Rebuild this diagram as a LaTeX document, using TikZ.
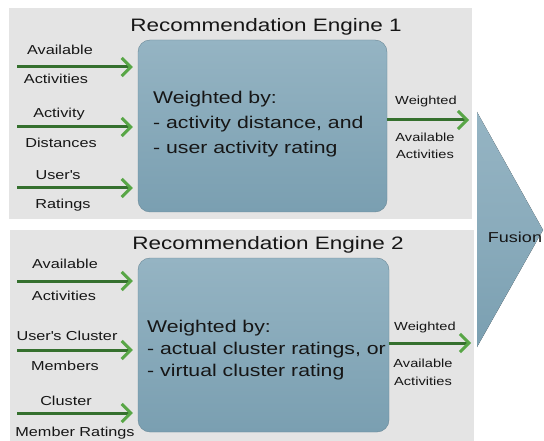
\documentclass[tikz,border=0pt]{standalone}
\usepackage{fontspec}
\setmainfont{Liberation Sans}[FakeStretch=1.25]
\usetikzlibrary{arrows.meta, positioning}
\definecolor{panel}{HTML}{E4E4E4}
\definecolor{hell}{HTML}{95B4C3}
\definecolor{dunkel}{HTML}{7A9FB1}
\definecolor{schaft}{HTML}{35702E}
\definecolor{spitze}{HTML}{58A646}
\definecolor{schrift}{HTML}{161616}

\begin{document}
\begin{tikzpicture}[
    x=1pt, y=-1pt,
    every node/.style={text=schrift, inner sep=0pt},
    engine/.style={rounded corners=12pt, top color=hell, bottom color=dunkel,
                   draw=dunkel!85!black, line width=0.4pt},
    flow/.style={draw=schaft, line width=3pt, shorten >=5pt,
                 -{Straight Barb[length=9pt,width=18pt,color=spitze]}},
    titel/.style={anchor=base, font=\fontsize{18}{20}\selectfont},
    inlbl/.style={anchor=base, font=\fontsize{13}{15}\selectfont},
    outlbl/.style={anchor=base, font=\fontsize{11.7}{13}\selectfont},
  ]
  \useasboundingbox (0,0) rectangle (544,441);

  % Hintergrund
  \fill[panel] (9,8) rectangle (472,219);
  \fill[panel] (10,230) rectangle (474,441);

  % Fusion
  \coordinate (fusA) at (477,112);
  \coordinate (fusB) at (477,347);
  \coordinate (fusC) at (543,230);
  \fill[top color=hell, bottom color=dunkel, middle color=hell!60!dunkel]
    (fusA) -- (fusC) -- (fusB) -- cycle;
  \node[anchor=base, font=\fontsize{14.4}{16}\selectfont] (fusion) at (515,242) {Fusion};

  % Engine 1
  \node[titel] (titelA) at (266,32) {Recommendation Engine 1};
  \node[engine, minimum width=249pt, minimum height=172pt] (engA) at (262.5,126) {};
  \node[anchor=north west, align=left, font=\fontsize{17}{25}\selectfont]
    (textA) at (153,91) {Weighted by:\\ - activity distance, and\\ - user activity rating};

  \coordinate (inA1) at (17,67);
  \coordinate (inA2) at (17,127);
  \coordinate (inA3) at (17,188);
  \draw[flow] (inA1) -- (inA1 -| engA.west);
  \draw[flow] (inA2) -- (inA2 -| engA.west);
  \draw[flow] (inA3) -- (inA3 -| engA.west);
  \node[inlbl] (lA1) at (60,55) {Available};
  \node[inlbl] (lA2) at (56,84) {Activities};
  \node[inlbl] (lA3) at (59,118) {Activity};
  \node[inlbl] (lA4) at (61,148) {Distances};
  \node[inlbl] (lA5) at (58,180) {User\textquotesingle s};
  \node[inlbl] (lA6) at (63,208) {Ratings};

  \coordinate (outA) at (474,120);
  \draw[flow] (outA -| engA.east) -- (outA);
  \node[outlbl] (oA1) at (426,105) {Weighted};
  \node[outlbl] (oA2) at (425,142) {Available};
  \node[outlbl] (oA3) at (425,159) {Activities};

  % Engine 2
  \node[titel] (titelB) at (268,250) {Recommendation Engine 2};
  \node[engine, minimum width=251pt, minimum height=174pt] (engB) at (263.5,345) {};
  \node[anchor=north west, align=left, font=\fontsize{17}{22}\selectfont]
    (textB) at (147,320) {Weighted by:\\- actual cluster ratings, or\\- virtual cluster rating};

  \coordinate (inB1) at (17,281);
  \coordinate (inB2) at (17,350);
  \coordinate (inB3) at (17,413);
  \draw[flow] (inB1) -- (inB1 -| engB.west);
  \draw[flow] (inB2) -- (inB2 -| engB.west);
  \draw[flow] (inB3) -- (inB3 -| engB.west);
  \node[inlbl] (lB1) at (65,269) {Available};
  \node[inlbl] (lB2) at (64,300) {Activities};
  \node[inlbl] (lB3) at (67,340) {User\textquotesingle s Cluster};
  \node[inlbl] (lB4) at (65,370) {Members};
  \node[inlbl] (lB5) at (66,405) {Cluster};
  \node[inlbl] (lB6) at (75,436) {Member Ratings};

  \coordinate (outB) at (476,343);
  \draw[flow] (outB -| engB.east) -- (outB);
  \node[outlbl] (oB1) at (425,330) {Weighted};
  \node[outlbl] (oB2) at (423,367) {Available};
  \node[outlbl] (oB3) at (423,385) {Activities};
\end{tikzpicture}
\end{document}
